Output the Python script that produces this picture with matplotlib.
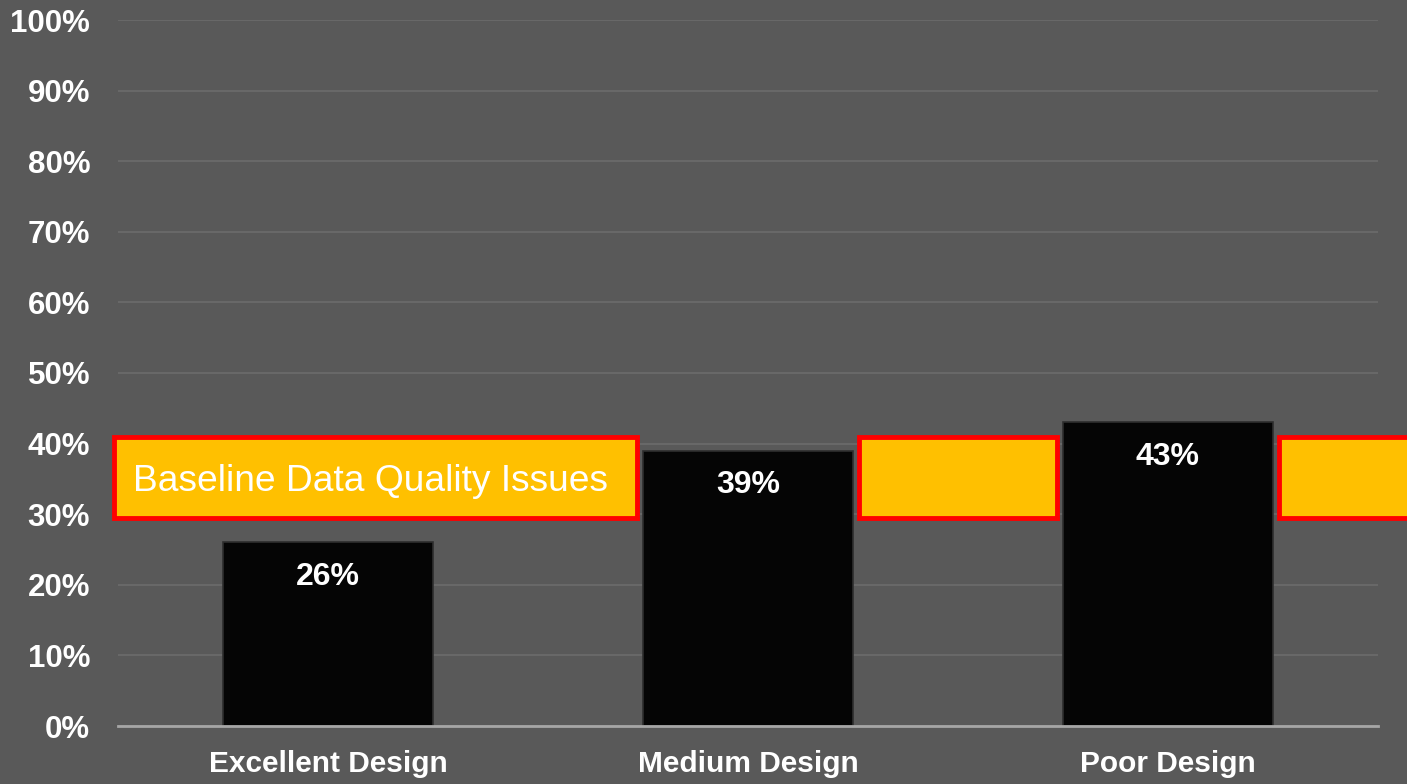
"""Bar chart: share of data quality issues by design quality, with a baseline band."""
import matplotlib
matplotlib.use("Agg")
import matplotlib.pyplot as plt
from matplotlib.patches import Rectangle
from matplotlib.ticker import FuncFormatter, MultipleLocator

categories = ["Excellent Design", "Medium Design", "Poor Design"]
values = [0.26, 0.39, 0.43]
baseline_low = 0.295
baseline_high = 0.41
baseline_label = "Baseline Data Quality Issues"

BG = "#595959"
BAR = "#050505"
FILL = "#FFC000"
EDGE = "#FF0000"

plt.rcParams["font.family"] = ["Liberation Sans", "DejaVu Sans"]

fig = plt.figure(figsize=(14.07, 7.84), dpi=100, facecolor=BG)
ax = fig.add_axes([118 / 1407, 58 / 784, 1260 / 1407, 706 / 784])
ax.set_facecolor(BG)

x = list(range(len(categories)))
width = 0.5
bars = ax.bar(x, values, width=width, color=BAR, edgecolor="#2e2e2e", lw=1.2, zorder=3)

ax.set_xlim(-0.5, len(categories) - 0.5)
ax.set_ylim(0, 1)
ax.yaxis.set_major_locator(MultipleLocator(0.1))
ax.yaxis.set_major_formatter(FuncFormatter(lambda v, _: f"{v * 100:.0f}%"))
ax.grid(axis="y", color="#6c6c6c", lw=1.2, zorder=0)
ax.set_axisbelow(True)
for s in ["top", "right", "left"]:
    ax.spines[s].set_visible(False)
ax.spines["bottom"].set_color("#a6a6a6")
ax.spines["bottom"].set_linewidth(2)
ax.spines["bottom"].set_zorder(4)

ax.set_xticks(x)
ax.set_xticklabels(categories)
ax.tick_params(axis="both", length=0, colors="white")
ax.tick_params(axis="y", pad=20, labelsize=22.5)
ax.tick_params(axis="x", pad=17, labelsize=21.5)
for lab in ax.get_xticklabels() + ax.get_yticklabels():
    lab.set_fontweight("bold")

# value labels just inside the bar tops
for b, v in zip(bars, values):
    ax.annotate(f"{v * 100:.0f}%", (b.get_x() + b.get_width() / 2, v),
                xytext=(0, -14), textcoords="offset points",
                ha="center", va="top", color="white", fontsize=23,
                fontweight="bold", zorder=5)

# baseline band drawn in the gaps between bars
gap = 0.015
spans = [(-0.51, x[1] - width / 2 - gap)]
for i in range(1, len(x)):
    left = x[i] + width / 2 + gap
    right = x[i + 1] - width / 2 - gap if i + 1 < len(x) else x[i] + 0.75
    spans.append((left, right))
for lft, rgt in spans:
    ax.add_patch(Rectangle((lft, baseline_low), rgt - lft, baseline_high - baseline_low,
                           facecolor=FILL, edgecolor=EDGE, lw=3.5,
                           clip_on=False, zorder=4))

ax.text(-0.464, (baseline_low + baseline_high) / 2 - 0.006, baseline_label,
        ha="left", va="center", color="white", fontsize=26.7, zorder=5)

fig.savefig("out.png", dpi=100, facecolor=BG)
